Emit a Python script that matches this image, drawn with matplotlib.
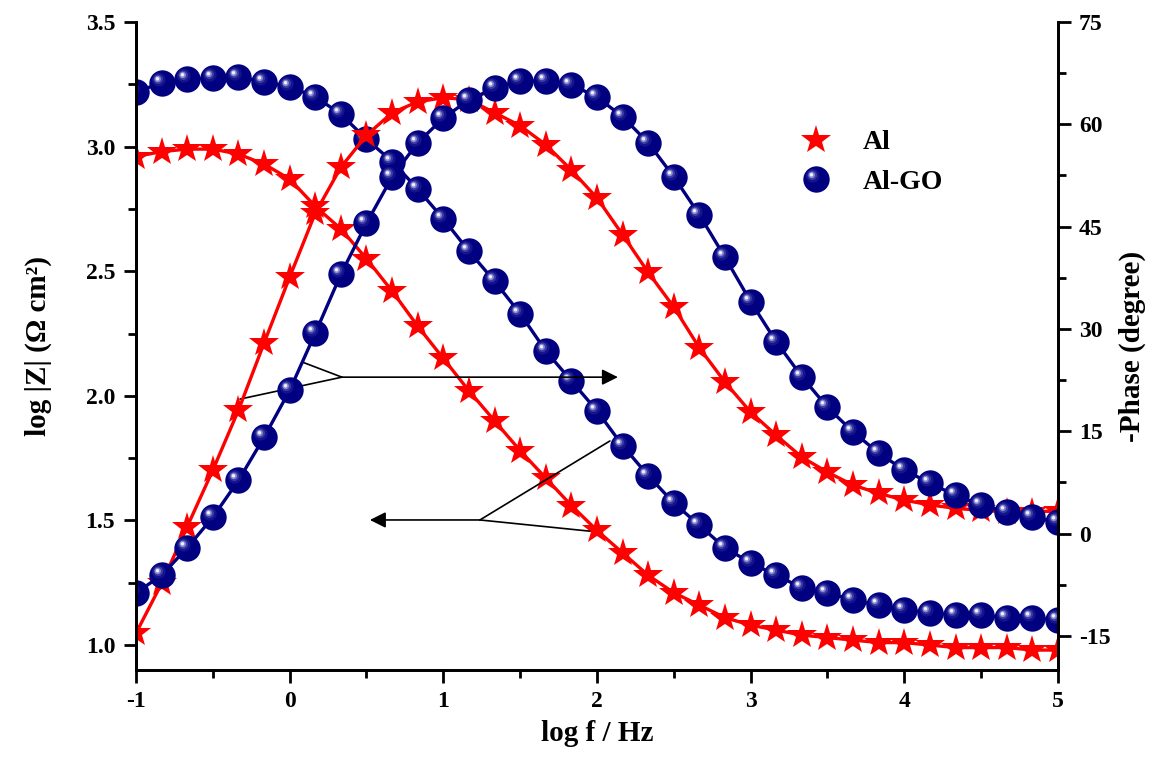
import numpy as np
import matplotlib
matplotlib.use("Agg")
import matplotlib.pyplot as plt
from matplotlib.path import Path
from matplotlib.lines import Line2D
from matplotlib.legend_handler import HandlerTuple
from matplotlib.ticker import MultipleLocator

plt.rcParams['font.family'] = ['Liberation Serif', 'DejaVu Serif']
plt.rcParams['font.weight'] = 'bold'
plt.rcParams['axes.unicode_minus'] = False

# log f / Hz
logf = [-1.0, -0.833, -0.667, -0.5, -0.333, -0.167, 0.0, 0.167, 0.333, 0.5, 0.667, 0.833,
        1.0, 1.167, 1.333, 1.5, 1.667, 1.833, 2.0, 2.167, 2.333, 2.5, 2.667, 2.833,
        3.0, 3.167, 3.333, 3.5, 3.667, 3.833, 4.0, 4.167, 4.333, 4.5, 4.667, 4.833, 5.0]

# log|Z|
al_modz = [2.96, 2.98, 2.99, 2.99, 2.97, 2.93, 2.87, 2.76, 2.67, 2.55, 2.42, 2.28,
           2.15, 2.02, 1.90, 1.78, 1.67, 1.56, 1.46, 1.37, 1.28, 1.21, 1.16, 1.11,
           1.08, 1.06, 1.04, 1.03, 1.02, 1.01, 1.01, 1.00, 0.99, 0.99, 0.99, 0.98, 0.98]
algo_modz = [3.22, 3.255, 3.27, 3.275, 3.28, 3.26, 3.24, 3.20, 3.13, 3.03, 2.94, 2.83,
             2.71, 2.58, 2.46, 2.33, 2.18, 2.06, 1.94, 1.80, 1.68, 1.57, 1.48, 1.39,
             1.33, 1.28, 1.23, 1.21, 1.18, 1.16, 1.14, 1.13, 1.12, 1.12, 1.11, 1.11, 1.10]

# -phase (degree)
al_phase = [-14.6, -7.3, 1.0, 9.3, 18.1, 27.9, 37.6, 47.0, 53.7, 58.4, 61.7, 63.3,
            63.9, 63.6, 61.7, 59.8, 57.0, 53.3, 49.2, 43.8, 38.3, 33.2, 27.2, 22.2,
            17.8, 14.4, 11.2, 9.0, 7.1, 5.9, 4.9, 4.2, 3.7, 3.4, 3.2, 3.2, 3.3]
algo_phase = [-8.7, -6.1, -2.1, 2.4, 7.8, 14.1, 21.0, 29.4, 38.0, 45.5, 52.3, 57.3,
              60.9, 63.6, 65.3, 66.4, 66.3, 65.8, 64.0, 61.1, 57.3, 52.3, 46.7, 40.5,
              34.0, 28.1, 23.0, 18.5, 14.9, 11.8, 9.3, 7.4, 5.6, 4.2, 3.2, 2.4, 1.7]

RED = '#ff0000'
NAVY = '#000080'
BALL = 19
STAR = 22


def spot(cx, cy, r):
    # highlight circle placed off-centre inside the unit marker box
    c = Path.circle((cx, cy), r)
    box = Path([(1, 1), (-1, -1)], [Path.MOVETO, Path.MOVETO])
    return Path.make_compound_path(c, box)


shine = [(spot(-0.28, 0.28, 0.52), '#14148c'),
         (spot(-0.32, 0.32, 0.36), '#3c3ca6'),
         (spot(-0.36, 0.34, 0.24), '#8c8cd0'),
         (spot(-0.38, 0.36, 0.13), '#f0f0ff')]


def balls(ax, x, y):
    ax.plot(x, y, '-', color=NAVY, lw=2.4, marker='o', ms=BALL, mfc=NAVY, mec=NAVY, mew=0)
    for p, c in shine:
        ax.plot(x, y, ls='none', marker=p, ms=BALL, mfc=c, mec='none')


fig = plt.figure(figsize=(11.57, 7.65), dpi=100)
ax = fig.add_axes([136 / 1157, 1 - 670 / 765, (1058 - 136) / 1157, (670 - 22) / 765])
ax2 = ax.twinx()

ax.plot(logf, al_modz, '-', color=RED, lw=2.4, marker='*', ms=STAR, mfc=RED, mec=RED, mew=0)
balls(ax, logf, algo_modz)
ax2.plot(logf, al_phase, '-', color=RED, lw=2.4, marker='*', ms=STAR, mfc=RED, mec=RED, mew=0)
balls(ax2, logf, algo_phase)

ax.set_xlim(-1, 5)
ax.set_ylim(0.9, 3.5)
ax2.set_ylim(-20, 75)

ax.xaxis.set_major_locator(MultipleLocator(1))
ax.xaxis.set_minor_locator(MultipleLocator(0.5))
ax.yaxis.set_major_locator(MultipleLocator(0.5))
ax.yaxis.set_minor_locator(MultipleLocator(0.25))
ax2.yaxis.set_major_locator(MultipleLocator(15))
ax2.yaxis.set_minor_locator(MultipleLocator(7.5))
ax.yaxis.set_major_formatter(matplotlib.ticker.FormatStrFormatter('%.1f'))

for a in (ax, ax2):
    a.spines['top'].set_visible(False)
    for s in a.spines.values():
        s.set_linewidth(2)
    a.tick_params(which='major', direction='out', length=9, width=2, labelsize=17, pad=6)
    a.tick_params(which='minor', direction='out', length=6, width=2)
ax.tick_params(axis='y', which='both', right=False)
ax.tick_params(axis='x', which='both', top=False)

ax.set_xlabel('log f / Hz', fontsize=21, fontweight='bold', labelpad=6)
ax.set_ylabel('log |Z| (Ω cm²)', fontsize=21, fontweight='bold', labelpad=24)
ax2.set_ylabel('-Phase (degree)', fontsize=21, fontweight='bold', labelpad=6)

# arrows linking curves to their axes
arr = dict(arrowstyle='-|>', color='black', lw=1.2, mutation_scale=24, shrinkA=0, shrinkB=0)
seg = dict(arrowstyle='-', color='black', lw=1.2, shrinkA=0, shrinkB=0)
ax.annotate('', xy=(2.136, 2.075), xytext=(0.340, 2.075), arrowprops=arr)
ax.annotate('', xy=(-0.323, 1.987), xytext=(0.340, 2.075), arrowprops=seg)
ax.annotate('', xy=(0.080, 2.136), xytext=(0.340, 2.075), arrowprops=seg)
ax.annotate('', xy=(0.522, 1.502), xytext=(1.238, 1.502), arrowprops=arr)
ax.annotate('', xy=(2.084, 1.819), xytext=(1.238, 1.502), arrowprops=seg)
ax.annotate('', xy=(1.954, 1.457), xytext=(1.238, 1.502), arrowprops=seg)

# legend proxies (markers only)
h_al = Line2D([], [], ls='none', marker='*', ms=STAR, mfc=RED, mec=RED, mew=0)
h_go = [Line2D([], [], ls='none', marker='o', ms=BALL, mfc=NAVY, mec=NAVY, mew=0)]
h_go += [Line2D([], [], ls='none', marker=p, ms=BALL, mfc=c, mec='none') for p, c in shine]

leg = ax2.legend([h_al, tuple(h_go)], ['Al', 'Al-GO'], loc='upper left',
                 bbox_to_anchor=(799 / 1157, 1 - 130 / 765), bbox_transform=fig.transFigure,
                 frameon=False, fontsize=20, handlelength=1.2, handletextpad=1.1,
                 labelspacing=0.5, borderpad=0, borderaxespad=0,
                 handler_map={tuple: HandlerTuple(ndivide=1, pad=0)})
for t in leg.get_texts():
    t.set_fontweight('bold')

fig.savefig('out.png', dpi=100)
